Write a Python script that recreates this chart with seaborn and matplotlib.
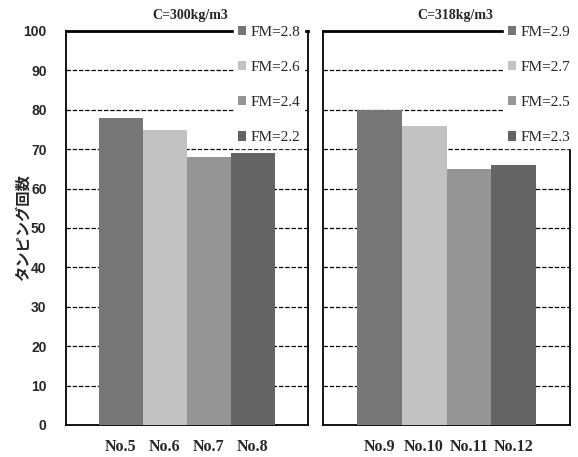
import matplotlib
matplotlib.use("Agg")
import matplotlib.pyplot as plt
from matplotlib.patches import Patch
import seaborn as sns
import pandas as pd

sns.set_theme(style="white")
plt.rcParams['font.family'] = ['Liberation Serif', 'DejaVu Sans']

# ---- data ----
left_samples = ["No.5", "No.6", "No.7", "No.8"]
left_values = [78, 75, 68, 69]
left_fm = ["FM=2.8", "FM=2.6", "FM=2.4", "FM=2.2"]
left_title = "C=300kg/m3"

right_samples = ["No.9", "No.10", "No.11", "No.12"]
right_values = [80, 76, 65, 66]
right_fm = ["FM=2.9", "FM=2.7", "FM=2.5", "FM=2.3"]
right_title = "C=318kg/m3"

y_ticks = [0, 10, 20, 30, 40, 50, 60, 70, 80, 90, 100]
y_label = "タンピング回数"

colors = ["#767676", "#c2c2c2", "#959595", "#646464"]

W, H = 578, 457
fig = plt.figure(figsize=(W / 100, H / 100), dpi=100)

def fx(px):
    return px / W

def fy(py):
    return 1 - py / H

top, bottom = 31, 425
ax_l = fig.add_axes([fx(66), fy(bottom), fx(308 - 66), (bottom - top) / H])
ax_r = fig.add_axes([fx(323), fy(bottom), fx(570 - 323), (bottom - top) / H])

panels = [
    (ax_l, left_samples, left_values, left_fm, left_title, 238, 190),
    (ax_r, right_samples, right_values, right_fm, right_title, 508, 455),
]

for ax, samples, values, fms, title, leg_x, title_x in panels:
    df = pd.DataFrame({"sample": samples, "count": values})
    sns.barplot(data=df, x="sample", y="count", hue="sample",
                palette=colors, width=1.0, legend=False, ax=ax,
                edgecolor="none", linewidth=0, zorder=3)
    ax.set_xlim(-1.25, 4.25)
    ax.set_ylim(0, 100)
    ax.set_yticks(y_ticks)
    ax.set_xlabel("")
    ax.set_ylabel("")
    for yv in y_ticks[1:-1]:
        ax.axhline(yv, color="black", lw=0.9, ls=(0, (3.5, 1.5)), zorder=1)
    for s in ax.spines.values():
        s.set_color("black")
        s.set_linewidth(1.3)
    ax.spines["top"].set_linewidth(2.0)
    ax.tick_params(axis="both", length=0)
    ax.tick_params(axis="x", pad=10)
    for lab in ax.get_xticklabels():
        lab.set_fontfamily("Liberation Serif")
        lab.set_fontweight("bold")
        lab.set_fontsize(11.5)
    handles = [Patch(facecolor=c, edgecolor="none") for c in colors]
    leg = ax.legend(handles, fms, loc="upper left",
                    bbox_to_anchor=(fx(leg_x - 4), fy(22)),
                    bbox_transform=fig.transFigure,
                    frameon=True, fancybox=False, framealpha=1.0,
                    edgecolor="white", facecolor="white",
                    prop={"family": "Liberation Serif", "size": 11},
                    handlelength=0.55, handleheight=0.55, handletextpad=0.3,
                    labelspacing=1.45, borderpad=0.25, borderaxespad=0)
    leg.set_zorder(10)
    fig.text(fx(title_x), fy(16), title, ha="center", va="center",
             fontsize=10, fontweight="bold", family="Liberation Serif")

for lab in ax_l.get_yticklabels():
    lab.set_fontfamily("Liberation Sans")
    lab.set_fontweight("bold")
    lab.set_fontsize(10)
ax_l.tick_params(axis="y", pad=14)
ax_r.set_yticklabels([])

fig.text(fx(23), fy(228), y_label, rotation=90, ha="center", va="center",
         fontsize=11, fontweight="bold", family=["Noto Sans CJK JP", "DejaVu Sans"])

fig.savefig("out.png", dpi=100)
